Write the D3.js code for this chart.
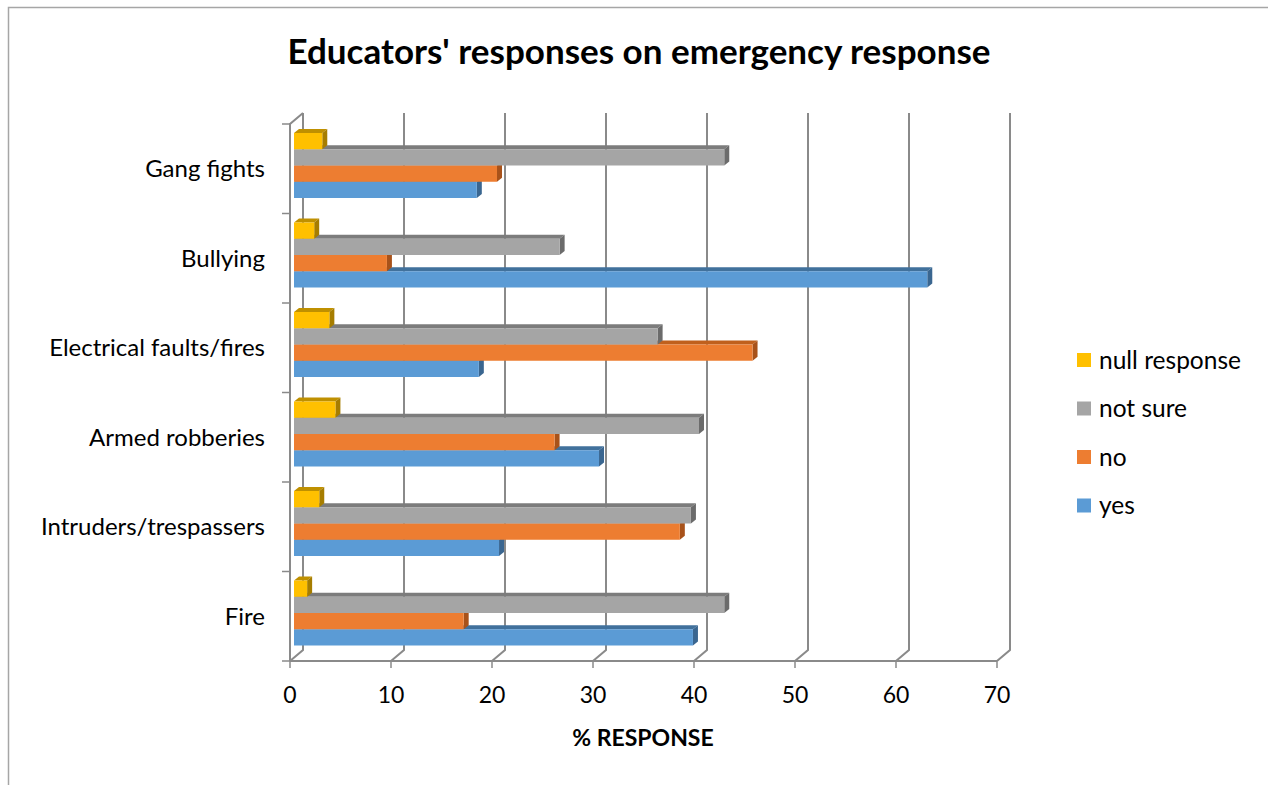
<!DOCTYPE html>
<html>
<head>
<meta charset="utf-8">
<script src="https://cdn.jsdelivr.net/npm/d3@7"></script>
<style>
  body { margin: 0; background: #fff; }
  svg { display: block; font-family: Lato, "Open Sans", sans-serif; }
</style>
</head>
<body>
<svg id="chart" width="1268" height="785"></svg>
<script>
// Educators' responses on emergency response - 3D clustered bars, Excel look

var categories = ["Gang fights", "Bullying", "Electrical faults/fires", "Armed robberies", "Intruders/trespassers", "Fire"]
  , seriesNames = ["null response", "not sure", "no", "yes"]   // top to bottom inside a group
  , nullResponse = [2.8, 2.0, 3.5, 4.1, 2.5, 1.3]
  , notSure      = [42.6, 26.3, 36.0, 40.1, 39.3, 42.6]
  , no           = [20.1, 9.2, 45.4, 25.8, 38.2, 16.8]
  , yes          = [18.1, 62.7, 18.3, 30.2, 20.3, 39.5]
  , xTicks = [0, 10, 20, 30, 40, 50, 60, 70]
  ;

var seriesValues = { "null response": nullResponse, "not sure": notSure, "no": no, "yes": yes };

var colors = {
  "null response": { front: "#ffc000", top: "#bf9000", side: "#a67d00" },
  "not sure":      { front: "#a5a5a5", top: "#7c7c7c", side: "#6b6b6b" },
  "no":            { front: "#ed7d31", top: "#c0601d", side: "#a8521a" },
  "yes":           { front: "#5b9bd5", top: "#41719c", side: "#3a6690" }
};

var svg = d3.select("#chart");

// outer frame
svg.append("path")
   .attr("d", "M8.5,790 L8.5,7.5 L1275,7.5")
   .attr("fill", "none")
   .attr("stroke", "#a6a6a6")
   .attr("stroke-width", 1.5);

// 3D geometry
var depthX = 13, depthY = -11      // front plane -> back wall
  , plotTop = 124, plotBottom = 661 // front plane
  , barDX = 5, barDY = -4           // bar thickness
  ;

var x = d3.scaleLinear().domain([0, 70]).range([290, 997]);      // front plane
var xBar = d3.scaleLinear().domain([0, 70]).range([294, 1001]);  // bar front faces
var y = d3.scaleBand().domain(categories).range([plotTop, plotBottom]).paddingInner(0);
var ySeries = d3.scaleBand().domain(seriesNames).range([9, 74]);

var gridColor = "#8a8a8a";

// back wall gridlines + floor diagonals
xTicks.forEach(function (v) {
  var xf = x(v), xb = x(v) + depthX;
  svg.append("path")
     .attr("d", "M" + xb + "," + (plotTop + depthY) + " L" + xb + "," + (plotBottom + depthY) + " L" + xf + "," + plotBottom)
     .attr("fill", "none")
     .attr("stroke", gridColor)
     .attr("stroke-width", 2);
  svg.append("line")
     .attr("x1", xf).attr("x2", xf)
     .attr("y1", plotBottom).attr("y2", plotBottom + 7)
     .attr("stroke", gridColor).attr("stroke-width", 1.5);
  svg.append("text")
     .attr("x", xf)
     .attr("y", 703)
     .attr("text-anchor", "middle")
     .attr("font-size", 23)
     .attr("fill", "#000")
     .text(v);
});

// floor front line
svg.append("line")
   .attr("x1", x(0)).attr("x2", x(70))
   .attr("y1", plotBottom).attr("y2", plotBottom)
   .attr("stroke", gridColor).attr("stroke-width", 2);

// left wall
svg.append("path")
   .attr("d", "M" + (x(0) + depthX) + "," + (plotTop + depthY) + " L" + x(0) + "," + plotTop + " L" + x(0) + "," + plotBottom)
   .attr("fill", "none")
   .attr("stroke", gridColor)
   .attr("stroke-width", 2);

var bounds = categories.map(function (c) { return y(c); }).concat([plotBottom]);
bounds.forEach(function (b) {
  svg.append("line")
     .attr("x1", x(0) - 8).attr("x2", x(0))
     .attr("y1", b).attr("y2", b)
     .attr("stroke", gridColor).attr("stroke-width", 1.5);
});

// bars, drawn bottom series first so the bar above covers its top face
var drawOrder = seriesNames.slice().reverse();
categories.forEach(function (c, ci) {
  drawOrder.forEach(function (s) {
    var v = seriesValues[s][ci]
      , x0 = xBar(0), x1 = xBar(v)
      , y0 = y(c) + ySeries(s), y1 = y0 + ySeries.bandwidth()
      , col = colors[s]
      , g = svg.append("g");
    g.append("polygon")
     .attr("points", [[x0, y0], [x0 + barDX, y0 + barDY], [x1 + barDX, y0 + barDY], [x1, y0]].join(" "))
     .attr("fill", col.top);
    g.append("polygon")
     .attr("points", [[x1, y0], [x1 + barDX, y0 + barDY], [x1 + barDX, y1 + barDY], [x1, y1]].join(" "))
     .attr("fill", col.side);
    g.append("rect")
     .attr("x", x0).attr("y", y0)
     .attr("width", x1 - x0).attr("height", y1 - y0)
     .attr("fill", col.front);
  });

  svg.append("text")
     .attr("x", 265)
     .attr("y", y(c) + y.bandwidth() / 2)
     .attr("dy", "0.35em")
     .attr("text-anchor", "end")
     .attr("font-size", 24)
     .attr("fill", "#000")
     .text(c);
});

// title and axis title
svg.append("text")
   .attr("x", 639).attr("y", 64)
   .attr("text-anchor", "middle")
   .attr("font-size", 35)
   .attr("font-weight", "bold")
   .text("Educators' responses on emergency response");

svg.append("text")
   .attr("x", 643).attr("y", 746)
   .attr("text-anchor", "middle")
   .attr("font-size", 23)
   .attr("font-weight", "bold")
   .text("% RESPONSE");

// legend
seriesNames.forEach(function (s, i) {
  var ly = 360 + i * 48.5;
  svg.append("rect")
     .attr("x", 1077).attr("y", ly - 7)
     .attr("width", 14).attr("height", 14)
     .attr("fill", colors[s].front);
  svg.append("text")
     .attr("x", 1099).attr("y", ly)
     .attr("dy", "0.35em")
     .attr("font-size", 24.5)
     .text(s);
});
</script>
</body>
</html>
